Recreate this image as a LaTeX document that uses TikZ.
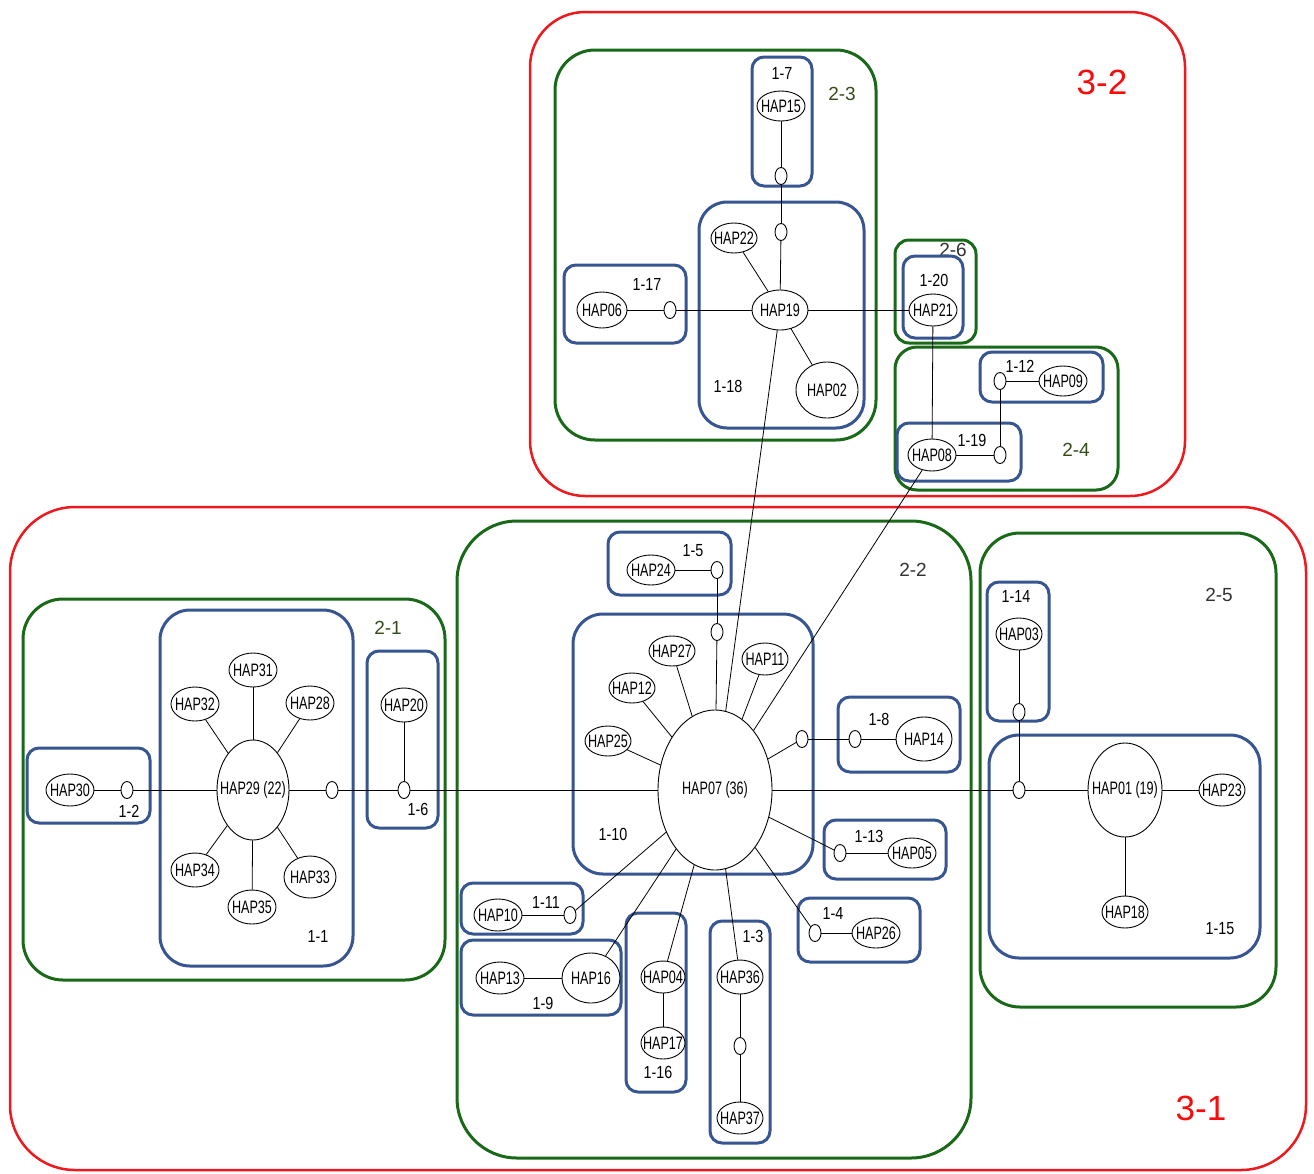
\documentclass[tikz,border=0pt]{standalone}
\usepackage{fontspec}
\setmainfont{Liberation Sans}
\newfontfamily\hapfont[FakeStretch=0.7]{Liberation Sans}
\newfontfamily\labfont[FakeStretch=0.82]{Liberation Sans}
\usetikzlibrary{shapes.geometric}
\definecolor{rbox}{RGB}{238,25,30}
\definecolor{rtxt}{RGB}{250,10,10}
\definecolor{gbox}{RGB}{25,105,25}
\definecolor{bbox}{RGB}{55,85,145}
\definecolor{olv}{RGB}{55,75,25}
\definecolor{dgr}{RGB}{50,50,50}
\newcommand\hp[1]{\makebox[0pt]{#1}}
\begin{document}
\begin{tikzpicture}[x=1pt,y=-1pt,
 hap/.style={ellipse, draw, line width=0.9pt, fill=white, inner sep=0pt, font=\hapfont\fontsize{18}{18}\selectfont},
 hs/.style 2 args={hap, minimum width=#1, minimum height=#2},
 mv/.style={ellipse, draw, line width=0.9pt, fill=white, inner sep=0pt, minimum width=12pt, minimum height=17pt},
 edge/.style={line width=0.8pt},
 redbox/.style={draw=rbox, line width=2.5pt, rounded corners=55pt},
 greenbox/.style={draw=gbox, line width=3pt, rounded corners=40pt},
 bluebox/.style={draw=bbox, line width=3pt, rounded corners=12pt},
 lab1/.style={font=\labfont\fontsize{17.5}{17.5}\selectfont, inner sep=0pt},
 lab2/.style={font=\fontsize{19}{19}\selectfont, inner sep=0pt},
 lab3/.style={font=\fontsize{35}{35}\selectfont, text=rtxt, inner sep=0pt},
]
\useasboundingbox (0,0) rectangle (1314,1173);
\fill[white] (0,0) rectangle (1314,1173);

% ---------- red boxes ----------
\draw[redbox] (530,12) rectangle (1185,496);
\draw[redbox, rounded corners=65pt] (10,507) rectangle (1306,1170);
\node[lab3] (L32) at (1102,82) {3-2};
\node[lab3] (L31) at (1201,1108) {3-1};

% ---------- green boxes ----------
\draw[greenbox] (555,50) rectangle (876,440);
\draw[greenbox, rounded corners=14pt] (895,240) rectangle (976,343);
\draw[greenbox, rounded corners=22pt] (895,347) rectangle (1118,490);
\draw[greenbox] (23,599) rectangle (445,980);
\draw[greenbox, rounded corners=60pt] (457,521) rectangle (971,1158);
\draw[greenbox] (980,533) rectangle (1276,1007);
\node[lab2, text=olv] (L23) at (842,94) {2-3};
\node[lab2, text=dgr] (L26) at (953,250) {2-6};
\node[lab2, text=olv] (L24) at (1076,450) {2-4};
\node[lab2, text=olv] (L21) at (388,628) {2-1};
\node[lab2, text=dgr] (L22) at (913,570) {2-2};
\node[lab2, text=dgr] (L25) at (1219,595) {2-5};

% ---------- blue boxes ----------
\draw[bluebox] (752,57) rectangle (812,186);
\draw[bluebox, rounded corners=28pt] (699,202) rectangle (864,428);
\draw[bluebox] (564,265) rectangle (686,343);
\draw[bluebox] (903,256) rectangle (963,338);
\draw[bluebox] (980,352) rectangle (1103,402);
\draw[bluebox] (897,423) rectangle (1021,481);
\draw[bluebox] (608,532) rectangle (731,595);
\draw[bluebox, rounded corners=30pt] (573,614) rectangle (813,874);
\draw[bluebox] (838,697) rectangle (960,772);
\draw[bluebox] (824,820) rectangle (946,879);
\draw[bluebox] (461,883) rectangle (583,934);
\draw[bluebox] (461,940) rectangle (621,1015);
\draw[bluebox] (626,913) rectangle (686,1092);
\draw[bluebox] (710,921) rectangle (770,1143);
\draw[bluebox] (798,898) rectangle (920,962);
\draw[bluebox] (27,748) rectangle (150,823);
\draw[bluebox, rounded corners=30pt] (160,610) rectangle (353,966);
\draw[bluebox] (367,651) rectangle (438,828);
\draw[bluebox] (987,582) rectangle (1049,721);
\draw[bluebox, rounded corners=30pt] (989,735) rectangle (1260,958);

\node[lab1] (l7) at (782,73) {1-7};
\node[lab1] (l18) at (728,386) {1-18};
\node[lab1] (l17) at (647,284) {1-17};
\node[lab1] (l20) at (934,280) {1-20};
\node[lab1] (l12) at (1020,366) {1-12};
\node[lab1] (l19) at (972,440) {1-19};
\node[lab1] (l5) at (693,551) {1-5};
\node[lab1] (l10) at (613,834) {1-10};
\node[lab1] (l8) at (879,719) {1-8};
\node[lab1] (l13) at (869,836) {1-13};
\node[lab1] (l11) at (546,902) {1-11};
\node[lab1] (l9) at (543,1003) {1-9};
\node[lab1] (l16) at (658,1072) {1-16};
\node[lab1] (l3) at (753,936) {1-3};
\node[lab1] (l4) at (833,913) {1-4};
\node[lab1] (l2) at (129,811) {1-2};
\node[lab1] (l1) at (318,936) {1-1};
\node[lab1] (l6) at (418,809) {1-6};
\node[lab1] (l14) at (1016,596) {1-14};
\node[lab1] (l15) at (1220,929) {1-15};

% ---------- haplotype nodes ----------
% top
\node[hs={48pt}{30pt}] (HAP15) at (781,106) {\hp{HAP15}};
\node[mv] (c1) at (781,176) {};
\node[mv] (c2) at (781,232) {};
\node[hs={46pt}{30pt}] (HAP22) at (734,238) {\hp{HAP22}};
\node[hs={56pt}{40pt}] (HAP19) at (780,310) {\hp{HAP19}};
\node[hs={62pt}{56pt}] (HAP02) at (827,390) {\hp{HAP02}};
\node[hs={50pt}{36pt}] (HAP06) at (602,310) {\hp{HAP06}};
\node[mv] (c3) at (670,310) {};
\node[hs={48pt}{32pt}] (HAP21) at (933,310) {\hp{HAP21}};
\node[hs={48pt}{32pt}] (HAP08) at (932,455) {\hp{HAP08}};
\node[mv] (c4) at (1000,455) {};
\node[mv] (c5) at (1000,381) {};
\node[hs={48pt}{30pt}] (HAP09) at (1063,381) {\hp{HAP09}};
% centre
\node[hs={48pt}{30pt}] (HAP24) at (651,570) {\hp{HAP24}};
\node[mv] (c6) at (717,570) {};
\node[mv] (c7) at (717,632) {};
\node[hs={114pt}{160pt}] (HAP07) at (715,790) {\hp{HAP07 (36)}};
\node[hs={46pt}{30pt}] (HAP27) at (672,651) {\hp{HAP27}};
\node[hs={46pt}{30pt}] (HAP12) at (632,688) {\hp{HAP12}};
\node[hs={46pt}{30pt}] (HAP25) at (608,741) {\hp{HAP25}};
\node[hs={46pt}{32pt}] (HAP11) at (765,659) {\hp{HAP11}};
\node[mv] (c8) at (802,739) {};
\node[mv] (c9) at (855,739) {};
\node[hs={56pt}{44pt}] (HAP14) at (924,739) {\hp{HAP14}};
\node[mv] (c10) at (840,853) {};
\node[hs={48pt}{30pt}] (HAP05) at (912,853) {\hp{HAP05}};
\node[mv] (c11) at (815,933) {};
\node[hs={48pt}{30pt}] (HAP26) at (876,933) {\hp{HAP26}};
\node[hs={48pt}{32pt}] (HAP10) at (498,915) {\hp{HAP10}};
\node[mv] (c12) at (570,915) {};
\node[hs={48pt}{32pt}] (HAP13) at (500,978) {\hp{HAP13}};
\node[hs={58pt}{50pt}] (HAP16) at (591,978) {\hp{HAP16}};
\node[hs={44pt}{32pt}] (HAP04) at (663,977) {\hp{HAP04}};
\node[hs={44pt}{32pt}] (HAP17) at (663,1043) {\hp{HAP17}};
\node[hs={46pt}{34pt}] (HAP36) at (740,977) {\hp{HAP36}};
\node[mv] (c13) at (740,1046) {};
\node[hs={46pt}{32pt}] (HAP37) at (740,1118) {\hp{HAP37}};
% left
\node[hs={48pt}{32pt}] (HAP30) at (70,790) {\hp{HAP30}};
\node[mv] (c14) at (127,790) {};
\node[hs={72pt}{100pt}] (HAP29) at (253,790) {\hp{HAP29 (22)}};
\node[hs={48pt}{34pt}] (HAP31) at (253,670) {\hp{HAP31}};
\node[hs={48pt}{34pt}] (HAP32) at (195,704) {\hp{HAP32}};
\node[hs={48pt}{34pt}] (HAP28) at (310,703) {\hp{HAP28}};
\node[hs={48pt}{34pt}] (HAP34) at (195,870) {\hp{HAP34}};
\node[hs={48pt}{34pt}] (HAP35) at (252,907) {\hp{HAP35}};
\node[hs={52pt}{42pt}] (HAP33) at (310,877) {\hp{HAP33}};
\node[mv] (c15) at (332,790) {};
\node[hs={46pt}{34pt}] (HAP20) at (404,705) {\hp{HAP20}};
\node[mv] (c16) at (404,790) {};
% right
\node[hs={46pt}{32pt}] (HAP03) at (1019,634) {\hp{HAP03}};
\node[mv] (c18) at (1019,712) {};
\node[mv] (c17) at (1019,790) {};
\node[hs={74pt}{94pt}] (HAP01) at (1125,790) {\hp{HAP01 (19)}};
\node[hs={46pt}{32pt}] (HAP23) at (1222,790) {\hp{HAP23}};
\node[hs={46pt}{32pt}] (HAP18) at (1125,912) {\hp{HAP18}};

% ---------- connectors ----------
\foreach \a/\b in {HAP15/c1, c1/c2, c2/HAP19, HAP22/HAP19, HAP02/HAP19,
  HAP06/c3, c3/HAP19, HAP19/HAP21, HAP21/HAP08, HAP08/c4, c4/c5, c5/HAP09,
  HAP19/HAP07, HAP08/HAP07,
  HAP24/c6, c6/c7, c7/HAP07, HAP27/HAP07, HAP12/HAP07, HAP25/HAP07, HAP11/HAP07,
  HAP07/c8, c8/c9, c9/HAP14, HAP07/c10, c10/HAP05, HAP07/c11, c11/HAP26,
  HAP07/c12, c12/HAP10, HAP07/HAP16, HAP16/HAP13, HAP07/HAP04, HAP04/HAP17,
  HAP07/HAP36, HAP36/c13, c13/HAP37,
  HAP30/c14, c14/HAP29, HAP31/HAP29, HAP32/HAP29, HAP28/HAP29, HAP34/HAP29,
  HAP35/HAP29, HAP33/HAP29, HAP29/c15, c15/c16, HAP20/c16, c16/HAP07,
  HAP07/c17, HAP03/c18, c18/c17, c17/HAP01, HAP01/HAP23, HAP01/HAP18}
  \draw[edge] (\a) -- (\b);
\end{tikzpicture}
\end{document}
